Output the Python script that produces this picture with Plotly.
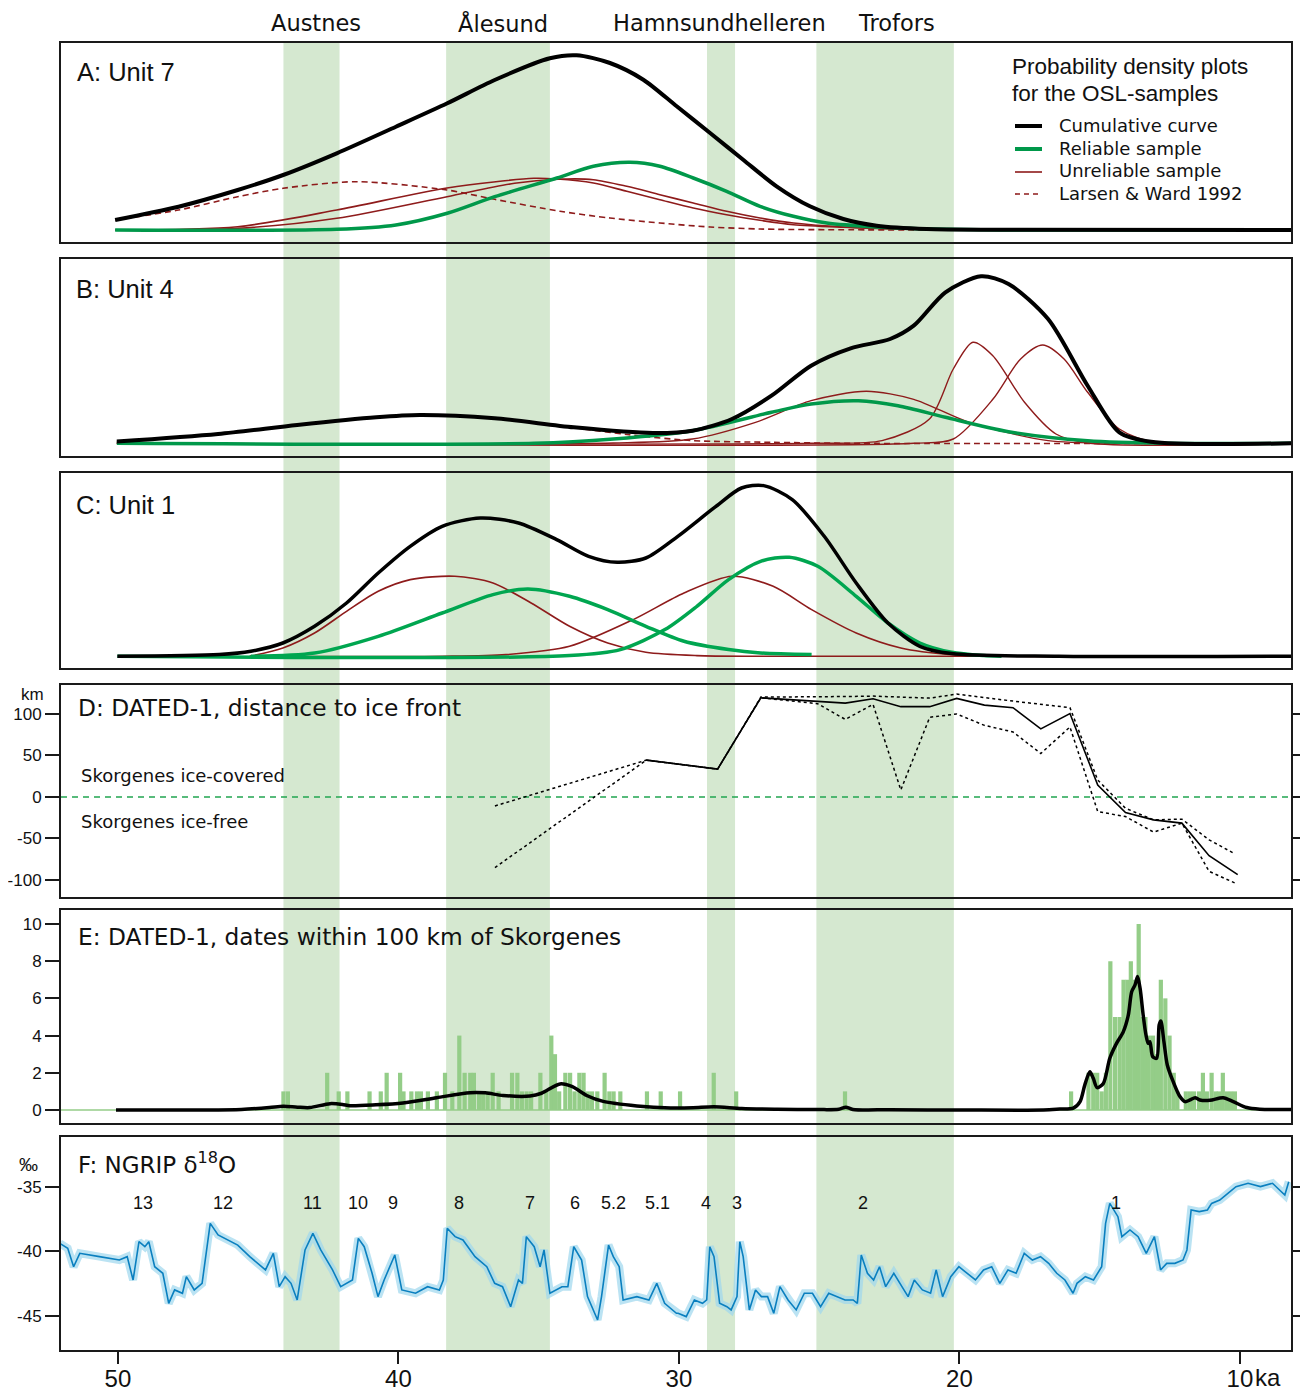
import plotly.graph_objects as go

# ------------------------------------------------------------------ data
band_names = ["Austnes", "Ålesund", "Hamnsundhelleren", "Trofors"]
band_start = [44.1, 38.3, 29.0, 25.1]
band_end = [42.1, 34.6, 28.0, 20.2]
band_label_ka = [42.94, 36.27, 28.57, 22.23]

# Panel A: Unit 7 (relative probability density)
a_black_ka = [50.10, 47.84, 45.73, 44.11, 42.20, 40.09, 38.26, 36.57, 34.60, 33.65, 32.46, 31.27, 30.08, 28.89, 27.71, 26.52, 25.33, 24.14, 22.95, 21.17, 18.56, 8.18]
a_black_v = [10, 23.3, 40, 55, 76.7, 103.3, 126.7, 150, 171.7, 174.7, 167, 150.3, 123.7, 97, 70.3, 43.7, 23.7, 11, 4.3, 1, 0.3, 0]
a_green_ka = [50.10, 42.20, 40.09, 38.26, 36.57, 34.35, 33.05, 31.75, 30.68, 29.49, 28.30, 27.11, 25.92, 24.73, 22.95, 21.17, 18.56, 8.18]
a_green_v = [0, 0.7, 5, 16.7, 33.3, 52, 63.7, 67.7, 63.7, 52, 38.7, 23.7, 13.7, 7, 3, 1, 0, 0]
a_red1_ka = [50.10, 45.73, 42.20, 38.27, 35.17, 34.35, 33.05, 31.86, 30.68, 29.49, 28.30, 27.11, 25.92, 24.14, 22.36, 18.56, 8.18]
a_red1_v = [0, 3.3, 20, 42, 51.7, 51, 47, 38.7, 30.3, 22, 15.3, 9.7, 5.3, 2.7, 1, 0, 0]
a_red2_ka = [50.10, 45.73, 42.20, 38.27, 35.86, 34.31, 33.05, 31.86, 30.68, 29.49, 28.30, 27.11, 25.92, 24.14, 22.36, 18.56, 8.18]
a_red2_v = [0, 1.7, 11.7, 33.3, 46.7, 50.7, 50.3, 43.7, 35.3, 27, 18.7, 12, 7, 3, 1.3, 0, 0]
a_lw_ka = [50.10, 47.84, 45.73, 44.11, 41.50, 38.27, 36.57, 34.24, 32.46, 30.68, 28.89, 27.11, 24.73, 8.18]
a_lw_v = [10, 20, 33.3, 41.7, 48.3, 40, 30.7, 18.7, 12, 7, 3, 1, 0.3, 0]

# Panel B: Unit 4
b_black_ka = [50.04, 46.43, 43.61, 40.79, 39.24, 36.57, 33.75, 30.93, 29.52, 28.11, 26.70, 25.29, 23.88, 22.47, 21.63, 20.50, 19.23, 18.25, 16.84, 15.43, 14.30, 13.17, 8.18]
b_black_v = [1.7, 9.3, 18.3, 26, 28.3, 25, 16, 10.3, 12.6, 24.3, 47.6, 77.6, 95, 104.3, 117.6, 151, 167, 159.3, 124.3, 57.6, 11, 1.6, 0]
b_green_ka = [50.04, 35.16, 32.34, 29.52, 26.70, 25.29, 23.60, 22.19, 20.50, 18.25, 15.43, 12.61, 8.18]
b_green_v = [0, 0, 4.3, 12.6, 31, 39.3, 42.6, 37.6, 26, 11.6, 2.6, 0, 0]
b_red1_ka = [50.04, 32.34, 29.52, 27.27, 25.29, 23.32, 21.63, 19.66, 16.84, 14.02, 8.18]
b_red1_v = [0, 0.3, 4.3, 21, 42.6, 52, 44, 21, 2.7, 0, 0]
b_red2_ka = [50.04, 25.29, 22.76, 21.07, 20.22, 19.52, 18.81, 17.68, 16.56, 15.43, 8.18]
b_red2_v = [0, 0, 2.7, 24.3, 74.3, 101, 87.6, 41, 9.3, 0.3, 0]
b_red3_ka = [50.04, 21.63, 20.22, 18.81, 17.82, 17.03, 16.27, 15.43, 14.30, 12.89, 8.18]
b_red3_v = [0, 0, 4.3, 44, 84.3, 98.3, 84.3, 51, 14.3, 0.3, 0]
b_lw_ka = [50.04, 46.43, 43.61, 40.79, 39.24, 36.57, 33.75, 31.78, 29.52, 26.70, 23.88, 8.18]
b_lw_v = [1.7, 9.3, 18.3, 26, 28.3, 25, 15.6, 8.6, 2.7, 1, 0, 0]

# Panel C: Unit 1
c_black_ka = [50.02, 46.39, 45.26, 44.12, 42.99, 41.85, 40.72, 39.58, 38.44, 37.08, 35.72, 34.36, 33.22, 32.20, 31.18, 30.04, 28.68, 27.77, 26.98, 25.96, 24.82, 23.68, 22.55, 21.41, 20.28, 16.46, 8.18]
c_black_v = [0, 1.7, 5, 13.3, 30, 53.3, 83.3, 110, 130, 138.3, 133.3, 116.7, 100, 94, 98.3, 120, 150, 168.3, 170.7, 156.7, 120, 73.3, 33.3, 10, 2.7, 0, 0]
c_red1_ka = [45.30, 44.12, 42.99, 41.85, 40.72, 39.58, 37.99, 36.63, 35.27, 33.90, 32.54, 31.18, 29.36, 27.09, 8.18]
c_red1_v = [0, 8.3, 23.3, 45, 65, 76.7, 80, 73.3, 53.3, 30, 13.3, 4, 0.7, 0, 0]
c_red2_ka = [45.30, 38.44, 36.17, 33.90, 31.63, 29.82, 28.11, 26.64, 25.27, 23.68, 22.09, 20.28, 18.01, 8.18]
c_red2_v = [0, 0, 1.7, 10, 36.7, 63.3, 80, 70, 46.7, 23.3, 8.3, 1.7, 0, 0]
c_green1_ka = [45.26, 42.99, 40.72, 38.44, 36.63, 35.38, 33.90, 32.54, 31.18, 29.82, 28.23, 27.09, 25.27]
c_green1_v = [0, 3.3, 20, 43.3, 61.7, 67.3, 60, 46.7, 30, 15, 6.7, 3.3, 1.7]
c_green2_ka = [50.02, 33.90, 32.09, 30.50, 29.36, 28.23, 27.09, 26.07, 25.05, 23.68, 22.55, 21.41, 20.28, 19.14, 18.5]
c_green2_v = [0, 0.7, 6.7, 26.7, 50, 76.7, 95, 99, 90, 60, 33.3, 13.3, 4, 0.7, 0]

# Panel D: DATED-1 distance to ice front (km)
d_ka = [31.16, 28.62, 27.08, 24.07, 23.08, 22.09, 21.06, 20.10, 19.11, 18.09, 17.10, 16.06, 15.07, 14.08, 13.08, 12.07, 11.10, 10.08]
d_km = [44.4, 33.6, 119.5, 113.1, 118.3, 108.8, 108.8, 118.7, 110.7, 107.6, 82.0, 100.5, 14.4, -18.8, -27.6, -31.5, -70.7, -93.5]
d_max_ka = [36.56, 31.16, 28.62, 27.08, 24.07, 23.08, 21.06, 20.10, 18.09, 16.06, 15.07, 14.08, 13.08, 12.07, 11.10, 10.19]
d_max_km = [-10.8, 44.4, 33.6, 120.3, 121.0, 121.5, 119.1, 123.9, 115.5, 107.6, 20.4, -13.6, -27.6, -26.7, -51.6, -68.3]
d_min_ka = [36.56, 31.16, 28.62, 27.08, 25.06, 24.07, 23.08, 22.09, 21.06, 20.10, 19.11, 18.09, 17.10, 16.06, 15.07, 14.08, 13.08, 12.07, 11.10, 10.19]
d_min_km = [-85.1, 44.4, 33.6, 119.5, 112.4, 93.5, 111.5, 8.4, 96.0, 100.0, 86.3, 78.3, 52.4, 84.3, -17.6, -23.6, -42.3, -31.5, -89.6, -103.5]

# Panel E: DATED-1 dates within 100 km of Skorgenes
e_bar_ka = [44.10, 43.94, 42.54, 42.13, 41.82, 41.03, 40.63, 40.42, 39.94, 39.82, 39.54, 39.34, 39.20, 38.95, 38.63, 38.34, 38.08,
            37.83, 37.64, 37.44, 37.31, 37.13, 36.98, 36.82, 36.64, 36.43, 35.95, 35.76, 35.60, 35.43, 35.27, 34.94, 34.73,
            34.55, 34.42, 34.27, 34.05, 33.88, 33.72, 33.55, 33.40, 33.25, 33.10, 32.91, 32.65, 32.48, 32.33, 32.09, 31.14,
            30.65, 29.96, 28.76, 27.96, 24.08,
            16.02, 15.40, 15.23, 15.09, 14.93, 14.78, 14.62, 14.45, 14.29, 14.15, 14.01, 13.89, 13.74, 13.61, 13.48, 13.37,
            13.25, 13.10, 12.96, 12.82, 12.66, 12.51, 12.36, 12.23, 11.93, 11.78, 11.64, 11.46, 11.32, 11.18, 11.01, 10.87,
            10.75, 10.61, 10.46, 10.32, 10.18]
e_bar_n = [1, 1, 2, 1, 1, 1, 1, 2, 2, 1, 1, 1, 1, 1, 1, 2, 1,
           4, 2, 2, 2, 1, 1, 1, 2, 1, 2, 2, 1, 1, 1, 2, 1,
           4, 3, 1, 2, 2, 1, 2, 2, 1, 1, 1, 2, 1, 1, 1, 1,
           1, 1, 2, 1, 1,
           1, 2, 2, 2, 1, 2, 8, 5, 5, 7, 7, 8, 7, 10, 5, 5,
           4, 4, 3, 7, 6, 4, 2, 1, 1, 1, 1, 1, 2, 1, 2, 1,
           1, 2, 1, 1, 1]
e_sum_ka = [50.07, 47.0, 45.6, 44.6, 44.1, 43.6, 43.16, 42.44, 42.0, 41.73, 40.8, 39.84, 38.64, 37.45, 36.9, 36.27, 35.31, 34.9,
            34.24, 33.8, 33.29, 32.7, 31.5, 30.3, 29.5, 28.76, 27.76, 26.5, 25.0, 24.3, 24.05, 23.8, 22.5, 20.0, 17.0,
            16.42, 15.94, 15.70, 15.53, 15.35, 15.23, 15.09, 14.87, 14.64, 14.40, 14.16, 13.98, 13.86, 13.74, 13.65, 13.56,
            13.45, 13.35, 13.27, 13.21, 13.11, 12.97, 12.88, 12.82, 12.71, 12.59, 12.38, 12.14, 11.96, 11.78, 11.60, 11.43,
            11.07, 10.60, 10.24, 9.76, 9.29, 8.18]
e_sum_n = [0.0, 0.0, 0.03, 0.13, 0.2, 0.15, 0.13, 0.34, 0.3, 0.23, 0.28, 0.38, 0.66, 0.93, 0.92, 0.78, 0.75, 0.9,
           1.4, 1.25, 0.78, 0.46, 0.22, 0.11, 0.12, 0.17, 0.08, 0.04, 0.02, 0.04, 0.15, 0.03, 0.01, 0.0, 0.0,
           0.05, 0.1, 0.45, 1.35, 2.05, 1.7, 1.2, 1.43, 2.78, 3.58, 4.2, 5.1, 6.36, 6.72, 7.17, 6.54,
           5.1, 4.03, 3.58, 3.67, 2.87, 2.78, 4.57, 4.78, 3.67, 2.42, 1.52, 0.72, 0.45, 0.54, 0.66, 0.54,
           0.52, 0.66, 0.45, 0.13, 0.04, 0.02]

# Panel F: NGRIP d18O (permil)
f_ka = [52.07, 51.79, 51.58, 51.36, 50.66, 49.95, 49.67, 49.46, 49.25, 49.04, 48.90, 48.69, 48.40, 48.19, 47.98, 47.70,
        47.56, 47.28, 47.00, 46.78, 46.71, 46.43, 45.73, 45.30, 44.74, 44.46, 44.25, 44.04, 43.83, 43.61, 43.33, 43.05,
        42.77, 42.35, 42.06, 41.64, 41.43, 41.22, 40.94, 40.73, 40.51, 40.13, 39.88, 39.39, 38.96, 38.54, 38.40, 38.26,
        37.98, 37.70, 37.27, 36.85, 36.57, 36.29, 36.00, 35.72, 35.58, 35.44, 35.16, 34.95, 34.81, 34.60, 34.17, 33.96,
        33.75, 33.47, 33.26, 32.90, 32.76, 32.51, 32.34, 32.13, 31.99, 31.50, 31.07, 30.79, 30.51, 30.09, 30.03, 29.74,
        29.45, 29.16, 29.01, 28.90, 28.75, 28.65, 28.55, 28.29, 28.14, 27.93, 27.83, 27.71, 27.49, 27.27, 27.06, 26.84,
        26.62, 26.40, 26.11, 25.82, 25.53, 25.24, 24.95, 24.66, 24.37, 24.08, 23.79, 23.64, 23.50, 23.28, 23.06, 22.85,
        22.63, 22.34, 22.05, 21.83, 21.61, 21.32, 21.03, 20.83, 20.60, 20.31, 20.02, 19.72, 19.43, 19.14, 18.85, 18.56,
        18.27, 17.98, 17.69, 17.40, 17.11, 16.82, 16.53, 16.24, 15.95, 15.81, 15.51, 15.22, 14.93, 14.79, 14.64, 14.35,
        14.21, 13.92, 13.63, 13.34, 13.05, 12.83, 12.61, 12.32, 12.03, 11.89, 11.74, 11.45, 11.16, 11.01, 10.72, 10.43,
        10.14, 9.71, 9.27, 8.84, 8.40, 8.26]
f_d18o = [-39.37, -39.75, -41.18, -40.14, -40.40, -40.66, -40.40, -42.21, -39.24, -39.63, -39.24, -41.18, -41.69, -44.02, -42.98, -43.24,
          -41.95, -42.98, -42.47, -38.59, -37.82, -38.72, -39.50, -40.40, -41.43, -40.14, -42.73, -41.95, -42.47, -43.76, -39.88, -38.59,
          -39.88, -41.43, -42.73, -42.21, -38.98, -39.63, -41.69, -43.50, -42.21, -40.27, -42.98, -43.24, -42.73, -42.98, -42.21, -38.20,
          -38.85, -39.11, -40.40, -41.18, -42.47, -42.73, -44.28, -42.21, -42.47, -38.85, -39.63, -41.18, -39.88, -43.24, -42.73, -42.73,
          -39.63, -40.66, -43.50, -45.31, -43.50, -39.50, -40.40, -41.18, -43.76, -43.50, -43.76, -42.47, -44.02, -44.79, -44.79, -45.05,
          -43.76, -44.02, -43.76, -39.63, -40.40, -42.21, -44.02, -44.28, -44.53, -43.50, -39.24, -40.40, -44.53, -42.98, -43.50, -43.50,
          -44.79, -42.73, -43.76, -44.53, -43.24, -43.24, -44.28, -43.24, -43.50, -43.76, -43.76, -44.02, -40.27, -41.69, -42.21, -41.18,
          -42.73, -41.69, -42.73, -43.50, -42.21, -42.98, -43.24, -41.43, -43.50, -41.95, -41.18, -41.69, -42.21, -41.43, -41.18, -42.47,
          -41.43, -41.69, -40.14, -40.66, -40.40, -40.92, -41.69, -42.21, -43.24, -42.47, -41.95, -42.21, -41.18, -37.82, -36.27, -37.30,
          -38.85, -38.33, -38.85, -40.14, -38.85, -41.43, -40.92, -40.92, -40.66, -39.88, -36.78, -36.91, -36.78, -36.27, -36.01, -35.49,
          -34.97, -34.71, -34.97, -34.71, -35.62, -34.59]
f_event_labels = ["13", "12", "11", "10", "9", "8", "7", "6", "5.2", "5.1", "4", "3", "2", "1"]
f_event_ka = [49.11, 46.26, 43.05, 41.44, 40.20, 37.84, 35.31, 33.71, 32.35, 30.75, 29.04, 27.93, 23.44, 14.42]
f_event_level = -36.24

x_ticks = [50, 40, 30, 20, 10]
x_ticktext = ["50", "40", "30", "20", "10"]
d_ticks = [-100, -50, 0, 50, 100]
d_ticktext = ["-100", "-50", "0", "50", "100"]
e_ticks = [0, 2, 4, 6, 8, 10]
e_ticktext = ["0", "2", "4", "6", "8", "10"]
f_ticks = [-35, -40, -45]
f_ticktext = ["-35", "-40", "-45"]

# ------------------------------------------------------------------ layout helpers
W, H = 1308, 1391
OFF = 8                      # page body margin offset of the plot div
L, R, T, B = 61, 1291, 43, 1350   # plot-area edges in page pixels
X_RANGE = [52.03, 8.18]


def ypap(py):
    return (B - py) / (B - T)


def xpap(px):
    return (px - L) / (R - L)


# (top px, bottom px, y range)
panels = [
    (43, 242, [-12, 187]),
    (259, 456, [-12.7, 184.3]),
    (473, 668, [-11.7, 183.3]),
    (685, 897, [-120.5, 134.9]),
    (910, 1123, [-0.70, 10.75]),
    (1137, 1350, [-47.64, -31.12]),
]

BLACK = "#000000"
GREEN = "#00984a"
GREEN_C = "#00a650"
RED = "#8e1b1b"
BLUE = "#0a7fbf"
LIGHTBLUE = "#9fd8ee"
BARGREEN = "#94cd88"
BAND = "#d5e8d0"
FRAME = "#1a1a1a"
VERDANA = "DejaVu Sans"
ARIAL = "Liberation Sans"

fig = go.Figure()


def add_line(xs, ys, idx, color, width, dash=None, shape="spline", opacity=1.0):
    sfx = "" if idx == 1 else str(idx)
    fig.add_trace(go.Scatter(
        x=xs, y=ys, mode="lines", xaxis="x" + sfx, yaxis="y" + sfx, opacity=opacity,
        line=dict(color=color, width=width, dash=dash, shape=shape,
                  smoothing=0.8 if shape == "spline" else None),
        hoverinfo="skip", showlegend=False))


# Panel A
add_line(a_lw_ka, a_lw_v, 1, RED, 1.6, dash="6px,4px")
add_line(a_red1_ka, a_red1_v, 1, RED, 1.6)
add_line(a_red2_ka, a_red2_v, 1, RED, 1.6)
add_line(a_green_ka, a_green_v, 1, GREEN, 3.5)
add_line(a_black_ka, a_black_v, 1, BLACK, 4)

# Panel B
add_line(b_lw_ka, b_lw_v, 2, RED, 1.6, dash="6px,4px")
add_line(b_red1_ka, b_red1_v, 2, RED, 1.4)
add_line(b_red2_ka, b_red2_v, 2, RED, 1.4)
add_line(b_red3_ka, b_red3_v, 2, RED, 1.4)
add_line(b_green_ka, b_green_v, 2, GREEN, 3.5)
add_line(b_black_ka, b_black_v, 2, BLACK, 4)

# Panel C
add_line(c_red1_ka, c_red1_v, 3, RED, 1.6)
add_line(c_red2_ka, c_red2_v, 3, RED, 1.6)
add_line(c_green1_ka, c_green1_v, 3, GREEN_C, 3.5)
add_line(c_green2_ka, c_green2_v, 3, GREEN_C, 3.5)
add_line(c_black_ka, c_black_v, 3, BLACK, 3.5)

# Panel D
add_line(d_max_ka, d_max_km, 4, BLACK, 1.5, dash="3px,3px", shape="linear")
add_line(d_min_ka, d_min_km, 4, BLACK, 1.5, dash="3px,3px", shape="linear")
add_line(d_ka, d_km, 4, BLACK, 1.6, shape="linear")

# Panel E
fig.add_trace(go.Bar(x=e_bar_ka, y=e_bar_n, width=0.15, xaxis="x5", yaxis="y5",
                     marker=dict(color=BARGREEN, line=dict(width=0)),
                     hoverinfo="skip", showlegend=False))
add_line(e_sum_ka, e_sum_n, 5, BLACK, 3.5)

# Panel F
add_line(f_ka, f_d18o, 6, LIGHTBLUE, 8, shape="linear", opacity=0.7)
add_line(f_ka, f_d18o, 6, BLUE, 1.6, shape="linear")

# ------------------------------------------------------------------ axes
layout = dict(
    width=W, height=H, autosize=False,
    margin=dict(l=L - OFF, r=W - (R - OFF), t=T - OFF, b=H - (B - OFF), pad=0, autoexpand=False),
    paper_bgcolor="white", plot_bgcolor="rgba(0,0,0,0)",
    showlegend=False, barmode="overlay",
)
for i, (top, bot, yr) in enumerate(panels, start=1):
    sfx = "" if i == 1 else str(i)
    xa = dict(domain=[0, 1], range=X_RANGE, anchor="y" + sfx, showgrid=False, zeroline=False,
              showline=True, mirror=True, linecolor=FRAME, linewidth=2, automargin=False,
              ticks="", showticklabels=False)
    if i > 1:
        xa["matches"] = "x"
    if i == 6:
        xa.update(ticks="outside", ticklen=12, tickwidth=1.5, tickcolor=FRAME,
                  tickvals=x_ticks, ticktext=x_ticktext, showticklabels=True,
                  ticklabelstandoff=-6,
                  tickfont=dict(family=ARIAL, size=24, color="#111"))
    ya = dict(domain=[ypap(bot), ypap(top)], range=yr, anchor="x" + sfx, showgrid=False,
              zeroline=False, showline=True, mirror=True, linecolor=FRAME, linewidth=2,
              automargin=False, ticks="", showticklabels=False)
    if i in (4, 5, 6):
        tv, tt = {4: (d_ticks, d_ticktext), 5: (e_ticks, e_ticktext), 6: (f_ticks, f_ticktext)}[i]
        ya.update(ticks="outside", ticklen=14, tickwidth=1.5, tickcolor=FRAME, tickvals=tv, ticktext=tt,
                  showticklabels=True, tickfont=dict(family=ARIAL, size=17, color="#111"),
                  mirror="ticks" if i in (4, 6) else True)
    layout["xaxis" + sfx] = xa
    layout["yaxis" + sfx] = ya

fig.update_layout(**layout)

# ------------------------------------------------------------------ shapes
shapes = []
for s, e in zip(band_start, band_end):
    shapes.append(dict(type="rect", xref="x", yref="paper", x0=s, x1=e, y0=0, y1=1,
                       fillcolor=BAND, line=dict(width=0), layer="below"))
# ice-front zero line in D
shapes.append(dict(type="line", xref="paper", yref="y4", x0=0, x1=1, y0=0, y1=0,
                   line=dict(color="#22a550", width=1.6, dash="6px,5px"), layer="below"))
# histogram baseline in E
shapes.append(dict(type="line", xref="paper", yref="y5", x0=0, x1=1, y0=0, y1=0,
                   line=dict(color=BARGREEN, width=1.5), layer="below"))
# legend swatches
leg_y = [126, 149, 172, 194]
leg_style = [(BLACK, 4, None), (GREEN, 4, None), (RED, 1.6, None), (RED, 1.6, "5px,4px")]
for py, (c, w, d) in zip(leg_y, leg_style):
    shapes.append(dict(type="line", xref="paper", yref="paper", x0=xpap(1015), x1=xpap(1042),
                       y0=ypap(py), y1=ypap(py), line=dict(color=c, width=w, dash=d)))
fig.update_layout(shapes=shapes)

# ------------------------------------------------------------------ text
ann = []
for name, ka in zip(band_names, band_label_ka):
    ann.append(dict(x=ka, y=ypap(23), xref="x", yref="paper", text=name, showarrow=False,
                    xanchor="center", yanchor="middle", font=dict(family=VERDANA, size=22.5, color="#111")))


def ptext(px, py, text, family, size, anchor="left"):
    ann.append(dict(x=xpap(px), y=ypap(py), xref="paper", yref="paper", text=text, showarrow=False,
                    xanchor=anchor, yanchor="middle", font=dict(family=family, size=size, color="#111")))


ptext(75, 72, "A: Unit 7", ARIAL, 25.5)
ptext(74, 289, "B: Unit 4", ARIAL, 25.5)
ptext(74, 505, "C: Unit 1", ARIAL, 25.5)
ptext(76, 707, "D: DATED-1, distance to ice front", VERDANA, 23.3)
ptext(76, 937, "E: DATED-1, dates within 100 km of Skorgenes", VERDANA, 23.3)
ptext(76, 1163, "F: NGRIP δ<sup>18</sup>O", VERDANA, 23)
ptext(79, 775, "Skorgenes ice-covered", VERDANA, 18)
ptext(79, 821, "Skorgenes ice-free", VERDANA, 18)
ptext(32, 694, "km", ARIAL, 17, anchor="center")
ptext(28, 1164, "‰", ARIAL, 19, anchor="center")
ptext(1010, 66, "Probability density plots", ARIAL, 22.5)
ptext(1010, 94, "for the OSL-samples", ARIAL, 22.5)
for py, t in zip(leg_y, ["Cumulative curve", "Reliable sample", "Unreliable sample", "Larsen &amp; Ward 1992"]):
    ptext(1057, py - 1, t, VERDANA, 18)
ptext(1253, 1377, "ka", ARIAL, 24)

for lab, ka in zip(f_event_labels, f_event_ka):
    ann.append(dict(x=ka, y=f_event_level, xref="x6", yref="y6", text=lab, showarrow=False,
                    xanchor="center", yanchor="middle", font=dict(family=ARIAL, size=18, color="#111")))

fig.update_layout(annotations=ann)
fig.write_html("out.html")
